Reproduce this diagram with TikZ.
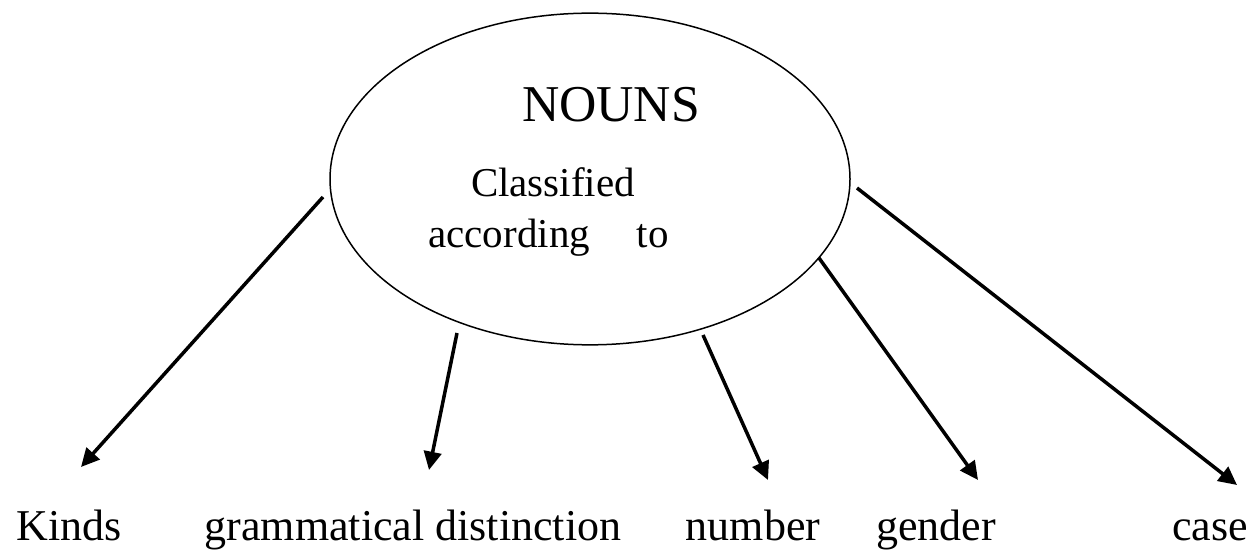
\documentclass[tikz,border=0pt]{standalone}
\usepackage{fontspec}
\setmainfont{Liberation Serif}
\usetikzlibrary{shapes.geometric,arrows.meta}
\begin{document}
\begin{tikzpicture}[x=0.6pt,y=-0.6pt,
  arr/.style={line width=2.1pt,-{Triangle[length=11pt,width=10.5pt]}},
  lbl/.style={anchor=base,inner sep=0pt,font=\fontsize{26.4pt}{30pt}\selectfont},
  oval/.style={draw,ellipse,line width=0.9pt,inner sep=0pt,minimum width=312pt,minimum height=199pt}]
\useasboundingbox (0,0) rectangle (1255,553);
\node[oval] (ov) at (590,179) {};
\node[anchor=base,inner sep=0pt,font=\fontsize{31pt}{36pt}\selectfont] (nouns) at (611,122) {NOUNS};
\node[anchor=base,inner sep=0pt,font=\fontsize{24.6pt}{28pt}\selectfont] (cls) at (553,197) {Classified};
\node[anchor=base west,inner sep=0pt,font=\fontsize{24.6pt}{28pt}\selectfont] (acc) at (428,248) {according\hspace{28pt}to};
\node[lbl] (kinds) at (69,540) {Kinds};
\node[lbl] (gram) at (413,540) {grammatical distinction};
\node[lbl] (num) at (753,540) {number};
\node[lbl] (gen) at (936,540) {gender};
\node[lbl] (case) at (1210,540) {case};
\coordinate (s1) at (323,197); \coordinate (e1) at (81,467);
\coordinate (s2) at (457,333); \coordinate (e2) at (429,470);
\coordinate (s3) at (703,335); \coordinate (e3) at (768,480);
\coordinate (s4) at (819,258); \coordinate (e4) at (978,480);
\coordinate (s5) at (857,188); \coordinate (e5) at (1237,485);
\draw[arr] (s1) -- (e1);
\draw[arr] (s2) -- (e2);
\draw[arr] (s3) -- (e3);
\draw[arr] (s4) -- (e4);
\draw[arr] (s5) -- (e5);
\end{tikzpicture}
\end{document}
